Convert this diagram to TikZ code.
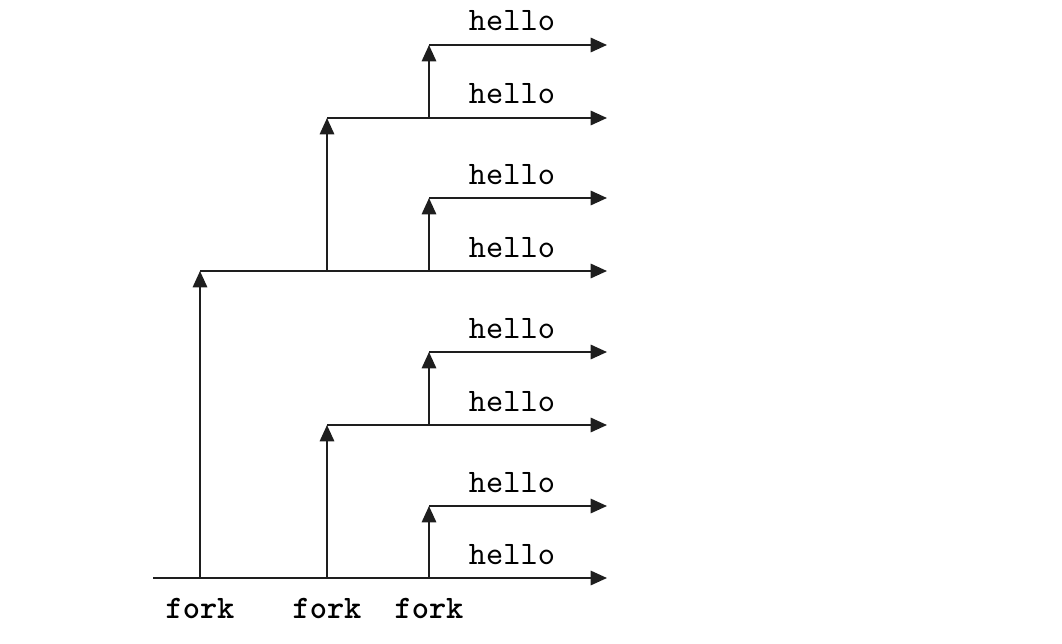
\documentclass[tikz,border=0pt]{standalone}
\usepackage{fontspec}
\usetikzlibrary{arrows.meta}
\begin{document}
\begin{tikzpicture}[x=0.305pt,y=-0.305pt,
  wire/.style={line width=0.6pt,draw={rgb,255:red,30;green,30;blue,30}},
  arr/.style={wire,-{Triangle[length=5pt,width=4.4pt]}},
  hello/.style={anchor=base,inner sep=0pt,font=\ttfamily},
  forklbl/.style={anchor=base,inner sep=0pt,font=\ttfamily\bfseries}]
\useasboundingbox (0,0) rectangle (1062,644);
% bottom line
\coordinate (s) at (153,578);
\coordinate (a0) at (200,578);
\coordinate (b0) at (327,578);
\coordinate (c0) at (429,578);
\coordinate (e0) at (607,578);
% junctions
\coordinate (c1) at (429,506); \coordinate (e1) at (607,506);
\coordinate (b2) at (327,425); \coordinate (c2) at (429,425); \coordinate (e2) at (607,425);
\coordinate (c3) at (429,352); \coordinate (e3) at (607,352);
\coordinate (a4) at (200,271); \coordinate (b4) at (327,271); \coordinate (c4) at (429,271); \coordinate (e4) at (607,271);
\coordinate (c5) at (429,198); \coordinate (e5) at (607,198);
\coordinate (b6) at (327,118); \coordinate (c6) at (429,118); \coordinate (e6) at (607,118);
\coordinate (c7) at (429,45); \coordinate (e7) at (607,45);
% horizontal arrows
\draw[arr] (s) -- (e0);
\draw[arr] (c1) -- (e1);
\draw[arr] (b2) -- (e2);
\draw[arr] (c3) -- (e3);
\draw[arr] (a4) -- (e4);
\draw[arr] (c5) -- (e5);
\draw[arr] (b6) -- (e6);
\draw[arr] (c7) -- (e7);
% vertical arrows
\draw[arr] (a0) -- (a4);
\draw[arr] (b0) -- (b2);
\draw[arr] (c0) -- (c1);
\draw[arr] (c2) -- (c3);
\draw[arr] (b4) -- (b6);
\draw[arr] (c4) -- (c5);
\draw[arr] (c6) -- (c7);
% labels
\foreach \y [count=\i] in {564,492,411,338,257,184,104,31}
  \node[hello] (h\i) at (512,\y) {hello};
\node[forklbl] (f1) at (200,618) {fork};
\node[forklbl] (f2) at (327,618) {fork};
\node[forklbl] (f3) at (429,618) {fork};
\end{tikzpicture}
\end{document}
